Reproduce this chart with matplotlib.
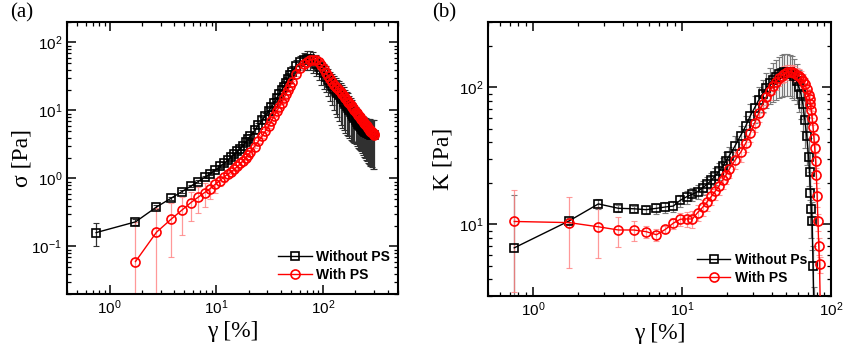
import numpy as np
import matplotlib
matplotlib.use("Agg")
import matplotlib.pyplot as plt
from matplotlib.ticker import LogLocator, NullFormatter

# ---------------- data: panel (a) ----------------
strain_a = [0.75, 1.75, 2.75, 3.75, 4.75, 5.75, 6.75, 7.75, 8.75, 9.75,
            10.75, 11.75, 12.75, 13.75, 14.75, 15.75, 16.75, 17.75, 18.75, 19.75, 20.75,
            22.75, 24.75, 26.75, 28.75, 30.75, 32.75, 34.75, 36.75, 38.75, 40.75,
            42.75, 44.75, 46.75, 48.75, 50.75,
            55.75, 60.75, 65.75, 70.75, 75.75, 80.75, 85.75, 90.75, 95.75,
            100.75, 105.75, 110.75, 115.75, 120.75, 125.75, 130.75, 135.75, 140.75, 145.75,
            150.75, 155.75, 160.75, 165.75, 170.75, 175.75, 180.75, 185.75, 190.75, 195.75,
            200.75, 205.75, 210.75, 215.75, 220.75, 225.75, 230.75, 235.75, 240.75, 245.75,
            250.75, 255.75, 260.75, 265.75, 270.75, 275.75, 280.75, 285.75, 290.75, 295.75,
            300.75]

sigma_without = [0.16, 0.23, 0.38, 0.51, 0.64, 0.77, 0.90, 1.04, 1.18, 1.33,
                 1.50, 1.67, 1.85, 2.05, 2.27, 2.50, 2.75, 3.05, 3.40, 3.80, 4.20,
                 5.1, 6.1, 7.2, 8.4, 9.8, 11.3, 13.0, 15.0, 17.5, 20.0,
                 22.5, 25.5, 29.0, 33.0, 37.0,
                 45.0, 51.0, 55.0, 57.0, 57.0, 54.0, 49.0, 44.0, 39.0,
                 35.0, 31.5, 28.5, 25.5, 23.0, 21.0, 19.5, 18.2, 17.0, 15.7,
                 14.5, 13.5, 12.5, 11.7, 11.0, 10.2, 9.5, 8.8, 8.2, 7.7,
                 7.2, 6.8, 6.4, 6.15, 5.9, 5.65, 5.4, 5.2, 5.0, 4.9,
                 4.8, 4.7, 4.6, 4.55, 4.5, 4.45, 4.4, 4.35, 4.3, 4.3,
                 np.nan]
sigma_without_err = [0.06, 0.02, 0.03, 0.03, 0.03, 0.03, 0.04, 0.04, 0.05, 0.05,
                     0.06, 0.07, 0.08, 0.09, 0.10, 0.12, 0.14, 0.16, 0.20, 0.25, 0.30,
                     0.40, 0.55, 0.70, 0.90, 1.1, 1.5, 2.0, 2.5, 3.2, 4.0,
                     4.8, 5.5, 6.3, 7.0, 8.0,
                     10.0, 12.0, 15.0, 17.0, 18.0, 18.0, 17.0, 16.0, 15.0,
                     14.0, 13.0, 12.3, 11.7, 11.0, 10.8, 10.5, 10.2, 10.0, 9.5,
                     9.0, 8.4, 7.8, 7.3, 6.8, 6.3, 5.8, 5.3, 4.8, 4.4,
                     4.0, 3.8, 3.6, 3.45, 3.3, 3.15, 3.0, 2.95, 2.9, 2.9,
                     2.9, 2.9, 2.9, 2.9, 2.9, 2.9, 2.9, 2.9, 2.9, 2.9,
                     np.nan]

sigma_with = [np.nan, 0.06, 0.162, 0.25, 0.342, 0.44, 0.53, 0.62, 0.71, 0.82,
              0.93, 1.05, 1.15, 1.25, 1.37, 1.50, 1.66, 1.83, 2.02, 2.23, 2.45,
              2.95, 3.55, 4.2, 5.0, 5.9, 7.0, 8.3, 9.8, 11.3, 13.0,
              15.0, 17.5, 20.0, 23.0, 26.0,
              34.0, 42.0, 48.0, 52.0, 55.0, 56.0, 55.0, 51.0, 46.0,
              41.0, 36.0, 32.0, 29.0, 26.0, 24.0, 22.5, 21.2, 20.0, 18.7,
              17.5, 16.4, 15.3, 14.4, 13.5, 12.7, 12.0, 11.3, 10.7, 10.1,
              9.6, 9.1, 8.7, 8.3, 7.9, 7.5, 7.2, 6.9, 6.6, 6.35,
              6.1, 5.85, 5.6, 5.4, 5.2, 5.05, 4.9, 4.75, 4.6, 4.5,
              4.4]
sigma_with_err = [np.nan, 0.17, 0.20, 0.18, 0.195, 0.20, 0.22, 0.24, 0.21, 0.20,
                  0.15, 0.15, 0.12, 0.10, 0.10, 0.10, 0.10, 0.11, 0.12, 0.13, 0.14,
                  0.16, 0.18, 0.20, 0.25, 0.30, 0.35, 0.40, 0.50, 0.55, 0.65,
                  0.75, 0.9, 1.0, 1.1, 1.3,
                  1.7, 2.1, 2.4, 2.6, 2.7, 2.8, 2.7, 2.5, 2.3,
                  2.0, 1.8, 1.6, 1.45, 1.3, 1.2, 1.1, 1.05, 1.0, 0.95,
                  0.9, 0.85, 0.8, 0.75, 0.7, 0.65, 0.6, 0.58, 0.55, 0.52,
                  0.5, 0.47, 0.45, 0.42, 0.4, 0.38, 0.36, 0.35, 0.33, 0.32,
                  0.3, 0.29, 0.28, 0.27, 0.26, 0.25, 0.25, 0.24, 0.23, 0.22,
                  0.22]

# ---------------- data: panel (b) ----------------
strain_b = [0.75, 1.75, 2.75, 3.75, 4.75, 5.75, 6.75, 7.75, 8.75, 9.75,
            10.75, 11.75, 12.75, 13.75, 14.75, 15.75, 16.75, 17.75, 18.75, 19.75, 20.75,
            22.75, 24.75, 26.75, 28.75, 30.75, 32.75, 34.75, 36.75, 38.75, 40.75,
            42.75, 44.75, 46.75, 48.75, 50.75, 52.75, 54.75, 56.75, 58.75, 60.75,
            62.75, 64.75, 66.75, 68.75, 70.75,
            71.75, 72.75, 73.75, 74.75, 75.75, 76.75, 77.75, 78.75, 79.75, 80.75,
            81.75, 82.75, 83.75, 84.75]

K_without = [6.74, 10.6, 14.1, 13.1, 13.0, 12.8, 13.1, 13.4, 13.6, 15.0,
             15.9, 16.6, 17.3, 18.5, 19.6, 21.0, 22.6, 24.5, 26.5, 29.0, 31.6,
             37.5, 44.5, 52.0, 62.0, 71.0, 81.0, 90.0, 99.0, 107.0, 114.0,
             120.0, 125.0, 128.0, 130.0, 130.0, 129.0, 126.0, 121.0, 112.0, 100.0,
             90.0, 75.0, 58.0, 44.0, 31.0,
             24.0, 17.0, 13.0, 10.5, 5.0, 2.5, np.nan, np.nan, np.nan, np.nan,
             np.nan, np.nan, np.nan, np.nan]
K_without_err = [9.7, 0.6, 1.2, 0.7, 0.6, 0.9, 1.1, 1.2, 1.3, 1.5,
                 1.7, 1.8, 2.0, 2.2, 2.5, 2.8, 3.1, 3.5, 4.0, 4.5, 5.0,
                 6.5, 8.0, 10.0, 13.0, 16.0, 20.0, 24.0, 28.0, 32.0, 36.0,
                 39.0, 41.0, 43.0, 44.0, 44.0, 43.0, 42.0, 40.0, 37.0, 34.0,
                 31.0, 27.0, 22.0, 17.0, 12.0,
                 9.0, 7.0, 5.0, 4.0, 2.0, 1.0, np.nan, np.nan, np.nan, np.nan,
                 np.nan, np.nan, np.nan, np.nan]

K_with = [10.5, 10.3, 9.6, 9.1, 9.1, 8.85, 8.4, 9.2, 10.2, 10.9,
          10.95, 10.95, 12.2, 13.3, 14.6, 16.0, 17.5, 19.1, 21.0, 23.0, 25.3,
          29.5, 33.5, 39.0, 46.5, 55.0, 65.0, 75.0, 85.0, 93.5, 102.0,
          110.0, 117.0, 122.0, 126.0, 129.0, 130.0, 129.0, 127.0, 124.0, 122.0,
          118.0, 112.0, 105.0, 97.0, 88.0,
          82.0, 76.0, 68.0, 60.0, 51.0, 43.0, 36.0, 29.0, 23.0, 16.0,
          10.5, 7.0, 5.1, 2.5]
K_with_err = [7.3, 5.5, 3.9, 2.3, 1.5, 0.9, 0.8, 0.6, 0.9, 1.2,
              1.4, 1.5, 1.6, 1.8, 2.0, 2.2, 2.4, 2.6, 2.9, 3.2, 3.5,
              4.2, 4.8, 5.5, 6.5, 7.5, 9.0, 10.0, 11.0, 12.0, 13.0,
              14.0, 15.0, 15.0, 16.0, 16.0, 16.0, 16.0, 16.0, 15.0, 15.0,
              14.0, 13.0, 12.0, 11.0, 10.0,
              9.0, 8.0, 8.0, 7.0, 6.0, 5.0, 4.5, 4.0, 3.0, 2.5,
              1.5, 1.0, 0.7, 0.3]

legend_a = ["Without PS", "With PS"]
legend_b = ["Without Ps", "With PS"]

# ---------------- styling ----------------
plt.rcParams['font.family'] = ['Liberation Sans', 'DejaVu Sans']
SERIF = ['Liberation Serif', 'DejaVu Serif']

fig = plt.figure(figsize=(8.49, 3.54), dpi=100)
ax1 = fig.add_axes([0.0789, 0.1695, 0.3899, 0.7684])
ax2 = fig.add_axes([0.5748, 0.1638, 0.4040, 0.7741])


def style_axis(ax):
    ax.set_xscale('log')
    ax.set_yscale('log')
    for s in ax.spines.values():
        s.set_linewidth(1.5)
    ax.tick_params(which='both', direction='in', top=True, right=True, labelsize=11)
    ax.tick_params(which='major', length=6.5, width=1.1)
    ax.tick_params(which='minor', length=3.2, width=0.9)
    ax.xaxis.set_minor_locator(LogLocator(base=10, subs=np.arange(2, 10) * 1.0, numticks=20))
    ax.yaxis.set_minor_locator(LogLocator(base=10, subs=np.arange(2, 10) * 1.0, numticks=20))
    ax.xaxis.set_minor_formatter(NullFormatter())
    ax.yaxis.set_minor_formatter(NullFormatter())


def draw(ax, x, yb, eb, yr, er, labels, ecol, anchor):
    x = np.asarray(x, float)
    ax.errorbar(x, yb, yerr=eb, fmt='none', ecolor=ecol, elinewidth=0.9,
                capsize=2.0, capthick=0.8, zorder=1)
    ax.plot(x, yb, color='black', lw=1.0, marker='s', ms=5.5, mfc='none',
            mec='black', mew=1.2, label=labels[0], zorder=3)
    ax.errorbar(x, yr, yerr=er, fmt='none', ecolor='#ff8080', elinewidth=0.9,
                capsize=2.0, capthick=0.8, alpha=0.8, zorder=2)
    ax.plot(x, yr, color='red', lw=1.0, marker='o', ms=6.5, mfc='none',
            mec='red', mew=1.2, label=labels[1], zorder=4)
    ax.legend(loc='lower right', bbox_to_anchor=anchor, frameon=False,
              handlelength=2.4, handletextpad=0.3, labelspacing=0.3,
              borderaxespad=0.0, borderpad=0.0,
              prop={'family': ['Liberation Sans'], 'weight': 'bold', 'size': 10})


style_axis(ax1)
draw(ax1, strain_a, sigma_without, sigma_without_err, sigma_with, sigma_with_err,
     legend_a, '#303030', (0.975, 0.045))
ax1.set_xlim(0.4, 500)
ax1.set_ylim(0.02, 200)

style_axis(ax2)
draw(ax2, strain_b, K_without, K_without_err, K_with, K_with_err,
     legend_b, '#7a7a7a', (0.93, 0.04))
ax2.set_xlim(0.5, 100)
ax2.set_ylim(3, 300)

for ax in (ax1, ax2):
    ax.set_xlabel('γ [%]', family=SERIF, fontsize=17)
    ax.xaxis.set_label_coords(0.5, -0.10)
ax1.set_ylabel('σ [Pa]', family=SERIF, fontsize=17)
ax1.yaxis.set_label_coords(-0.105, 0.5)
ax2.set_ylabel('K [Pa]', family=SERIF, fontsize=17)
ax2.yaxis.set_label_coords(-0.10, 0.5)

fig.text(0.012, 0.99, '(a)', family=SERIF, fontsize=15, va='top', ha='left')
fig.text(0.509, 0.99, '(b)', family=SERIF, fontsize=15, va='top', ha='left')

fig.savefig('out.png', dpi=100)
